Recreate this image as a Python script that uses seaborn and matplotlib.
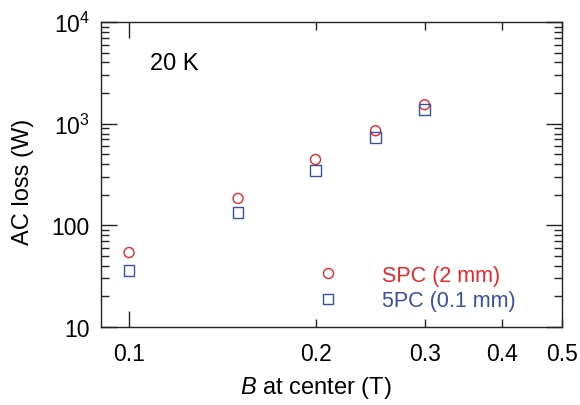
import matplotlib
matplotlib.use("Agg")
import matplotlib.pyplot as plt
import matplotlib.ticker as mticker
from matplotlib.lines import Line2D
import numpy as np
import pandas as pd
import seaborn as sns

# ---- data ----
b_field = [0.10, 0.15, 0.20, 0.25, 0.30]
loss_spc = [54, 184, 444, 852, 1535]
loss_5pc = [36, 134, 346, 729, 1371]
series_labels = ["SPC (2 mm)", "5PC (0.1 mm)"]
x_tick_vals = [0.2, 0.3, 0.4, 0.5]
x_tick_labels = ["0.2", "0.3", "0.4", "0.5"]
y_tick_vals = [10, 100, 1000, 10000]
y_tick_labels = ["10", "100", "$10^3$", "$10^4$"]

RED = "#e8262a"
BLUE = "#3a4ea0"

sns.set_theme(style="ticks")
plt.rcParams["font.family"] = ["Liberation Sans", "DejaVu Sans"]
plt.rcParams["mathtext.fontset"] = "custom"
plt.rcParams["mathtext.rm"] = "Liberation Sans"
plt.rcParams["mathtext.it"] = "Liberation Sans:italic"
plt.rcParams["text.color"] = "black"
plt.rcParams["axes.labelcolor"] = "black"

df = pd.DataFrame({
    "B": b_field * 2,
    "loss": loss_spc + loss_5pc,
    "series": [series_labels[0]] * len(b_field) + [series_labels[1]] * len(b_field),
})

fig = plt.figure(figsize=(5.8, 4.06), dpi=100)
ax = fig.add_axes([101 / 580, 1 - 328 / 406, (562 - 101) / 580, (328 - 23) / 406])

sub1 = df[df.series == series_labels[0]]
sub2 = df[df.series == series_labels[1]]
sns.scatterplot(x=sub1.B, y=sub1.loss, marker="o", s=52, facecolors="none", edgecolor=RED, linewidth=1.0, zorder=3, ax=ax, legend=False)
sns.scatterplot(x=sub2.B, y=sub2.loss, marker="s", s=60, facecolors="none", edgecolor=BLUE, linewidth=1.0, zorder=3, ax=ax, legend=False)

ax.set_xscale("log")
ax.set_yscale("log")
ax.set_xlim(0.0901, 0.5)
ax.set_ylim(10, 10000)

ax.xaxis.set_major_locator(mticker.FixedLocator([0.1]))
ax.xaxis.set_major_formatter(mticker.FixedFormatter(["0.1"]))
ax.xaxis.set_minor_locator(mticker.FixedLocator(x_tick_vals))
ax.xaxis.set_minor_formatter(mticker.FixedFormatter(x_tick_labels))

ax.yaxis.set_major_locator(mticker.FixedLocator(y_tick_vals))
ax.yaxis.set_major_formatter(mticker.FixedFormatter(y_tick_labels))
ax.yaxis.set_minor_locator(mticker.LogLocator(base=10, subs=np.arange(2, 10)))
ax.yaxis.set_minor_formatter(mticker.NullFormatter())

for s in ax.spines.values():
    s.set_linewidth(1.0)
    s.set_color("#222222")
    s.set_visible(True)

ax.tick_params(which="both", direction="in", top=True, right=True, color="#222222", width=1.0, labelsize=16.5, labelcolor="black")
ax.tick_params(which="major", length=11.5)
ax.tick_params(which="minor", length=6)
ax.tick_params(axis="x", which="both", pad=11)
ax.tick_params(axis="y", which="both", pad=8)

ax.set_xlabel("$B$ at center (T)", fontsize=17, color="black")
ax.set_ylabel("AC loss (W)", fontsize=17, color="black")
ax.xaxis.set_label_coords((316 - 101) / 461, -0.155)
ax.yaxis.set_label_coords(-0.145, 0.48)

ax.text((150 - 101) / 461, (328 - 64.5) / 305, "20 K", transform=ax.transAxes, fontsize=17, va="center", ha="left", color="black")

handles = [
    Line2D([], [], marker="o", linestyle="none", markersize=7.2, markerfacecolor="none", markeredgecolor=RED, markeredgewidth=1.0),
    Line2D([], [], marker="s", linestyle="none", markersize=7.2, markerfacecolor="none", markeredgecolor=BLUE, markeredgewidth=1.0),
]
leg = ax.legend(handles, series_labels, loc="upper left", bbox_to_anchor=((317 - 101) / 461, (328 - 266) / 305),
                frameon=False, fontsize=15.5, handlelength=1.0, handletextpad=2.0, labelspacing=0.2,
                borderpad=0, borderaxespad=0, labelcolor=[RED, BLUE])

fig.savefig("out.png", dpi=100)
